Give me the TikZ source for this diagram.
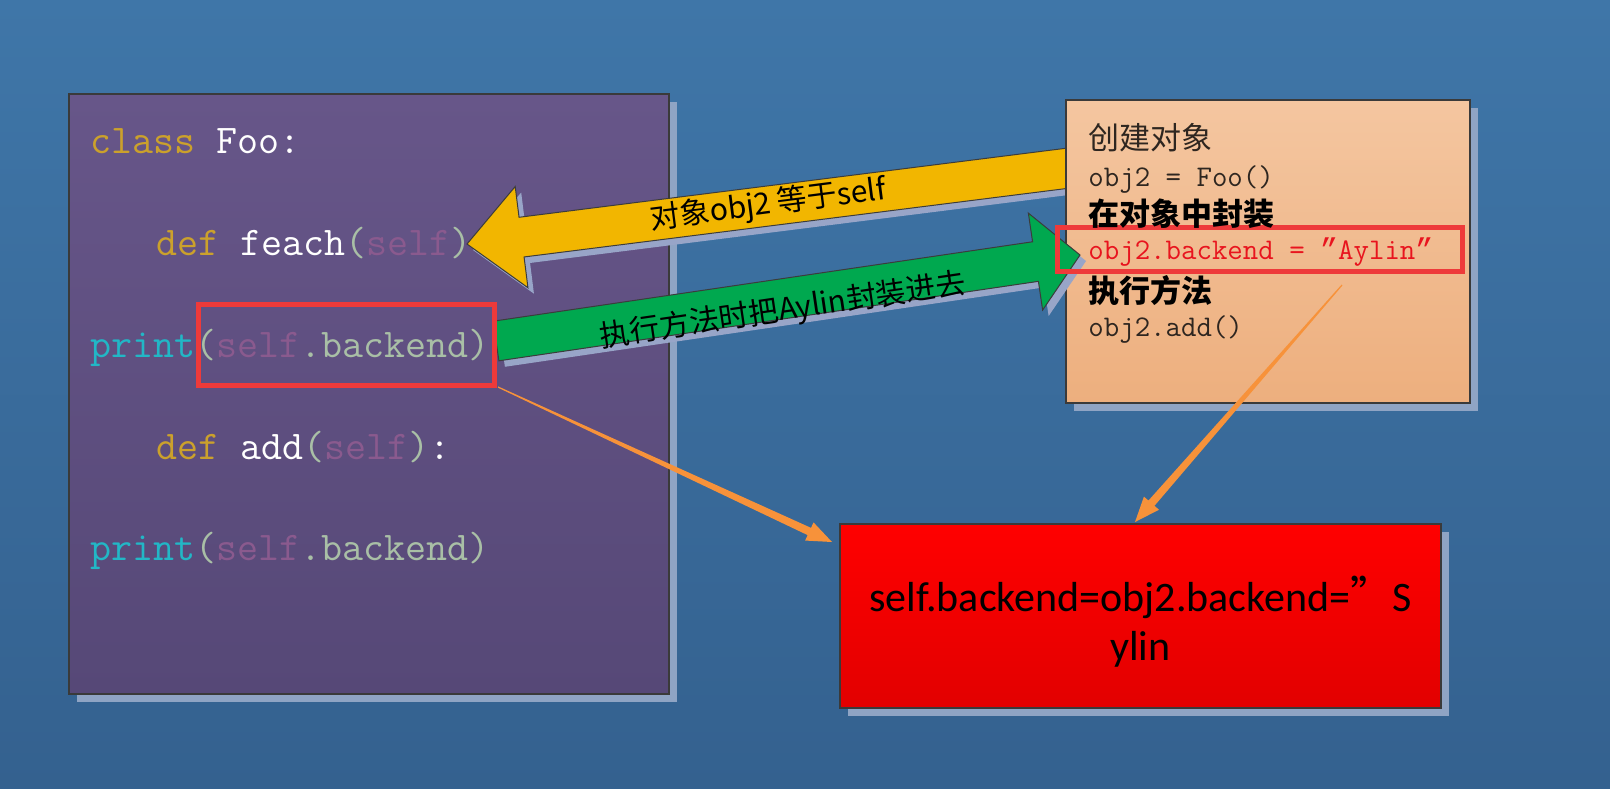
\documentclass[tikz,border=0pt]{standalone}
\usepackage{fontspec}
\newfontfamily\cjk{Noto Sans CJK SC}
\newfontfamily\calfont{Carlito}
\newfontfamily\quotefont{Liberation Mono}
\usetikzlibrary{calc,shadows}

\definecolor{bgtop}{HTML}{3F76A8}
\definecolor{bgbot}{HTML}{34618F}
\definecolor{codetop}{HTML}{675689}
\definecolor{codebot}{HTML}{564877}
\definecolor{peachtop}{HTML}{F4C6A0}
\definecolor{peachbot}{HTML}{EDAF7E}
\definecolor{redtop}{HTML}{FF0000}
\definecolor{redbot}{HTML}{E20000}
\definecolor{panelshadow}{HTML}{8FA4C4}
\definecolor{paneledge}{HTML}{3A3A3A}
\definecolor{keyword}{HTML}{CBA12C}
\definecolor{callc}{HTML}{22B7C6}
\definecolor{paren}{HTML}{A9BFA6}
\definecolor{selfc}{HTML}{8A5A8E}
\definecolor{hlred}{HTML}{EE3A3A}
\definecolor{setred}{HTML}{E8141E}
\definecolor{objtext}{HTML}{2E2620}
\definecolor{arrowyellow}{HTML}{F2B600}
\definecolor{arrowgreen}{HTML}{00A84F}
\definecolor{arrowshadow}{HTML}{98A5C8}
\definecolor{arrowedge}{HTML}{3C3C3C}
\definecolor{orangec}{HTML}{F7923A}

% wide block arrow: tail, tip, fill, head length, head half width
\newcommand\blockarrow[5]{%
  \coordinate (bab) at ($(#2)!#4!(#1)$);
  \def\bapath{($(#1)!10pt!90:(#2)$) -- ($(bab)!10pt!90:(#2)$) -- ($(bab)!#5!90:(#2)$) -- (#2)
    -- ($(bab)!#5!-90:(#2)$) -- ($(bab)!10pt!-90:(#2)$) -- ($(#1)!10pt!-90:(#2)$) -- cycle}
  \fill[arrowshadow, transform canvas={xshift=3pt, yshift=-3pt}] \bapath;
  \filldraw[fill=#3, draw=arrowedge, line width=0.5pt] \bapath;
}

% thin orange arrow that widens towards the head: start, tip
\newcommand\taperarrow[2]{%
  \coordinate (tab) at ($(#2)!12.5pt!(#1)$);
  \fill[orangec] ($(#1)!0.3pt!90:(#2)$) -- ($(tab)!2pt!90:(#2)$) -- ($(tab)!5pt!90:(#2)$) -- (#2)
    -- ($(tab)!5pt!-90:(#2)$) -- ($(tab)!2pt!-90:(#2)$) -- ($(#1)!0.3pt!-90:(#2)$) -- cycle;
}

\begin{document}
\begin{tikzpicture}[x=0.5pt, y=-0.5pt,
  panel/.style={draw=paneledge, line width=0.6pt, inner sep=0,
    drop shadow={shadow xshift=4pt, shadow yshift=-4pt, fill=panelshadow, opacity=1}},
  codeline/.style={anchor=base west, inner sep=0, font=\ttfamily\fontsize{20.4pt}{23pt}\selectfont},
  objline/.style={anchor=base west, inner sep=0, text=objtext, font=\ttfamily\fontsize{15pt}{17pt}\selectfont},
  objcjk/.style={anchor=base west, inner sep=0, text=objtext, font=\cjk\fontsize{15.5pt}{18pt}\selectfont},
  objbold/.style={anchor=base west, inner sep=0, text=black, font=\cjk\bfseries\fontsize{15.5pt}{18pt}\selectfont},
  hlbox/.style={draw=hlred, line width=2.5pt},
  armlabel/.style={inner sep=0, font=\cjk\fontsize{15pt}{18pt}\selectfont},
]

% Background
\fill[top color=bgtop, bottom color=bgbot] (0,0) rectangle (1610,788);
\useasboundingbox (0,0) rectangle (1610,788);

% Code panel
\node[panel, top color=codetop, bottom color=codebot, minimum width=300pt, minimum height=300pt] (codebox) at (369,394) {};
\node[codeline] (clsline) at (90,153) {\color{keyword}class \color{white}Foo:};
\node[codeline] (feachline) at (156,255) {\color{keyword}def \color{white}feach\color{paren}(\color{selfc}self\color{paren})};
\node[codeline] (print1) at (90,357) {\color{callc}print\color{paren}(\color{selfc}self\color{paren}.backend)};
\node[codeline] (addline) at (156,459) {\color{keyword}def \color{white}add\color{paren}(\color{selfc}self\color{paren})\color{white}:};
\node[codeline] (print2) at (90,560) {\color{callc}print\color{paren}(\color{selfc}self\color{paren}.backend)};

% Yellow arrow back to self
\coordinate (yTail) at (1085,166);
\coordinate (yTip) at (467,244);
\blockarrow{yTail}{yTip}{arrowyellow}{27.5pt}{25.5pt}
\node[armlabel, rotate=7.3] (ylabel) at (768,205) {对象obj2 等于self};

% Object panel
\node[panel, top color=peachtop, bottom color=peachbot, minimum width=202pt, minimum height=151.5pt] (objbox) at (1268,251.5) {};

% Green arrow into the object
\coordinate (gTail) at (496,341);
\coordinate (gTip) at (1080,255);
\blockarrow{gTail}{gTip}{arrowgreen}{22.5pt}{24.5pt}
\node[armlabel, rotate=8.4] (glabel) at (783,311) {执行方法时把Aylin封装进去};

% Highlights
\draw[hlbox] (198,304) rectangle (494,385);
\draw[hlbox] (1057,227) rectangle (1462,271);

% Object panel text
\node[objcjk] (create) at (1088,149) {创建对象};
\node[objline] (objfoo) at (1088,186) {obj2 = Foo()};
\node[objbold] (wrap) at (1088,225) {在对象中封装};
\node[objline, text=setred] (setline) at (1088,259) {obj2.backend = {\quotefont ”}Aylin{\quotefont ”}};
\node[objbold] (run) at (1088,302) {执行方法};
\node[objline] (objadd) at (1088,336) {obj2.add()};

% Result panel
\node[panel, top color=redtop, bottom color=redbot, minimum width=300.5pt, minimum height=92pt] (resultbox) at (1140.5,616) {};
\node[align=center, inner sep=0, font=\calfont\fontsize{21pt}{24.5pt}\selectfont] (restext) at (1140.5,622)
  {self.backend=obj2.backend={\cjk ”}S\\ylin};

% Orange arrows
\coordinate (o1s) at (498,387);
\coordinate (o1e) at (832,542);
\coordinate (o2s) at (1342,285);
\coordinate (o2e) at (1135,522);
\taperarrow{o1s}{o1e}
\taperarrow{o2s}{o2e}

\end{tikzpicture}
\end{document}
